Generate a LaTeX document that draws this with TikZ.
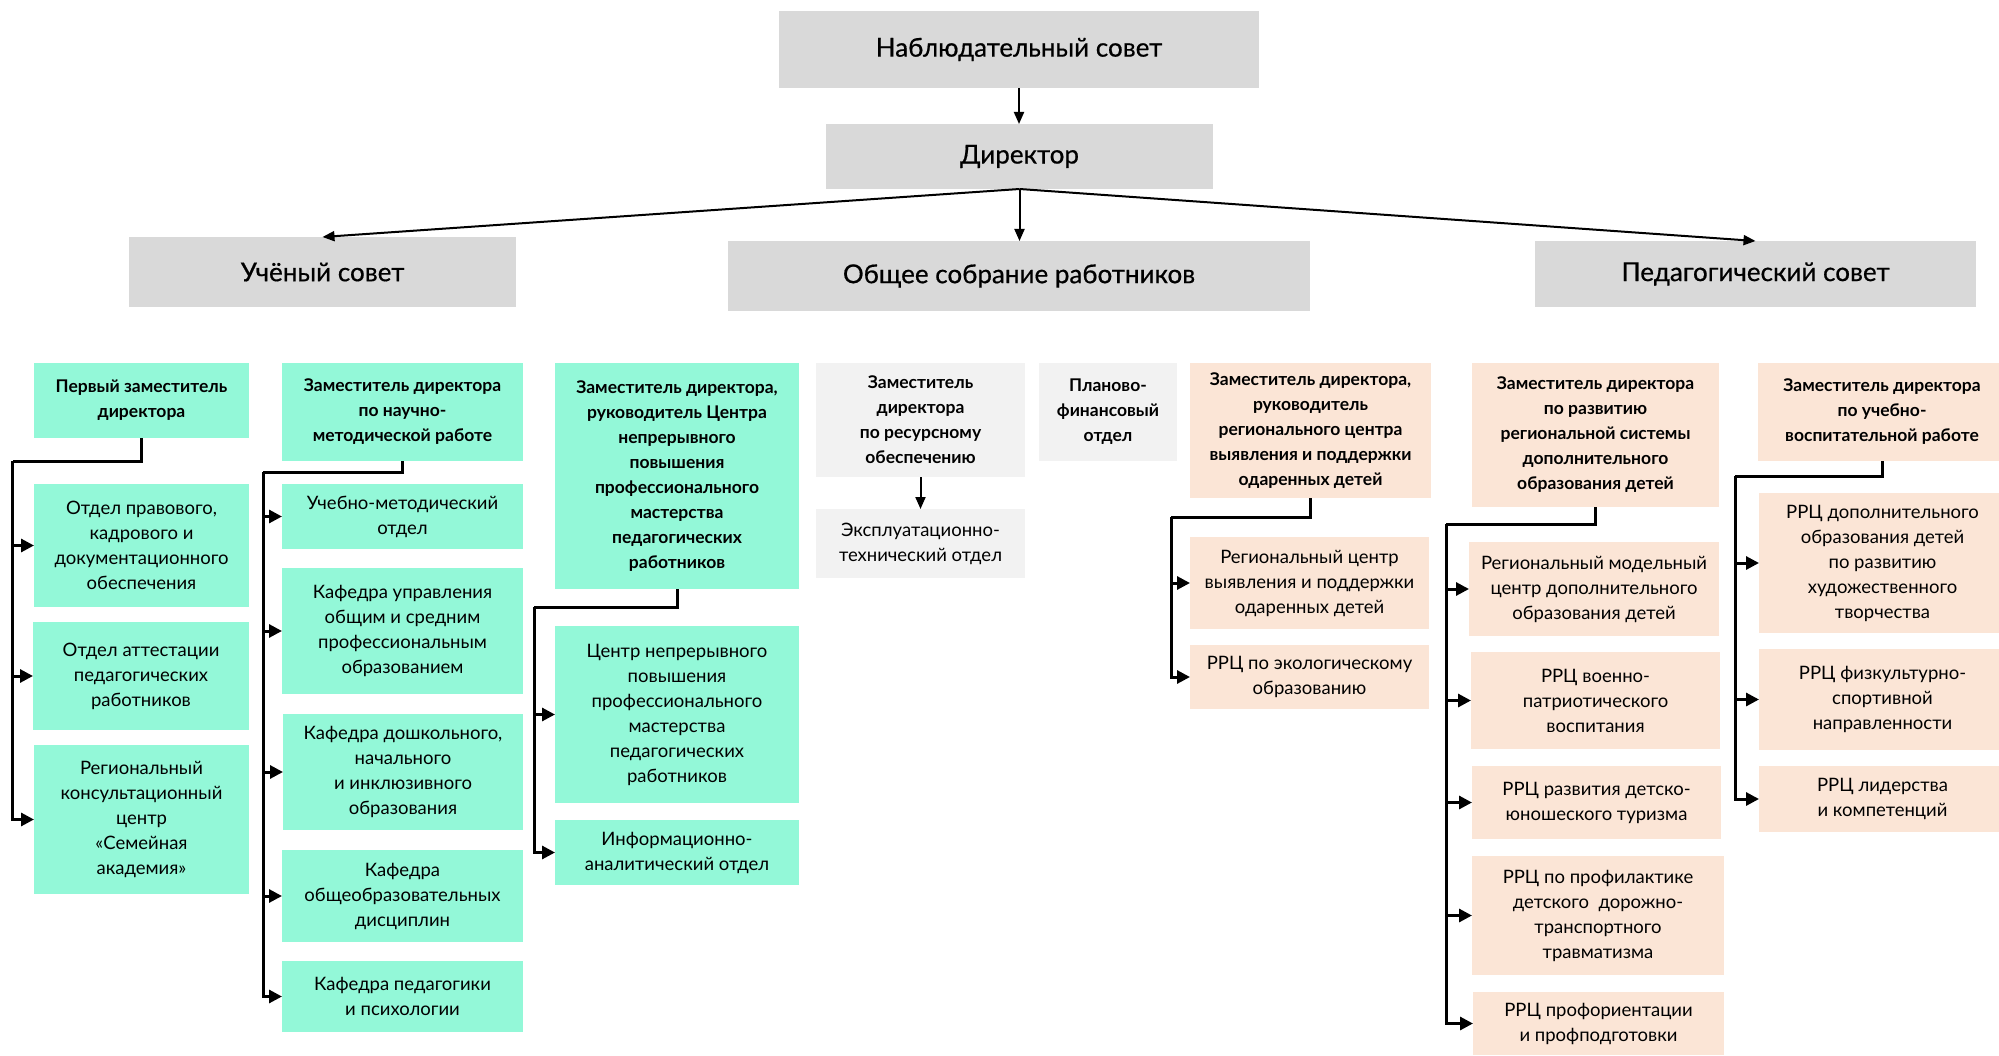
\documentclass[tikz,border=0pt]{standalone}
\usepackage{fontspec}
\setmainfont{Lato}
\newfontfamily\hdrfont[FakeBold=0.6]{Lato}
\usetikzlibrary{arrows.meta}
\definecolor{mint}{HTML}{93F8D8}
\definecolor{peach}{HTML}{FBE5D6}
\definecolor{hdrgray}{HTML}{D9D9D9}
\definecolor{lightgray2}{HTML}{F2F2F2}
\tikzset{
  box/.style={inner sep=0pt, outer sep=0pt, align=center, text=black},
  hdr/.style={box, fill=hdrgray, font=\hdrfont\fontsize{26}{32}\selectfont},
  mintbox/.style={box, fill=mint, font=\fontsize{18.5}{25}\selectfont},
  mintboss/.style={box, fill=mint, font=\bfseries\fontsize{17.5}{25}\selectfont},
  peachbox/.style={box, fill=peach, font=\fontsize{18.5}{25}\selectfont},
  peachboss/.style={box, fill=peach, font=\bfseries\fontsize{17.5}{25}\selectfont},
  greybox/.style={box, fill=lightgray2, font=\fontsize{18.5}{25}\selectfont},
  greyboss/.style={box, fill=lightgray2, font=\bfseries\fontsize{17.5}{25}\selectfont},
  conn/.style={line width=3pt, -{Triangle[length=13pt,width=13pt]}},
  busline/.style={line width=3pt},
  topconn/.style={line width=2pt, -{Triangle[length=12pt,width=10pt]}},
}
\newcommand\mkbox[7]{\node[#2, minimum width={(#5-#3)*1pt}, minimum height={(#6-#4)*1pt}] (#1) at ({(#3+#5)/2},{(#4+#6)/2}) {#7};}
\begin{document}
\begin{tikzpicture}[x=1pt,y=-1pt]
\useasboundingbox (0,0) rectangle (1999,1056);
% top level
\mkbox{nab}{hdr}{779}{11}{1259}{88}{Наблюдательный совет}
\mkbox{dir}{hdr}{826}{124}{1213}{189}{Директор}
\mkbox{uch}{hdr}{129}{237}{516}{307}{Учёный совет}
\mkbox{obsh}{hdr}{728}{241}{1310}{311}{Общее собрание работников}
\mkbox{ped}{hdr}{1535}{241}{1976}{307}{Педагогический совет}
% column A
\mkbox{perv}{mintboss}{34}{363}{249}{438}{Первый заместитель\\директора}
\mkbox{otdprav}{mintbox}{34}{484}{249}{607}{Отдел правового,\\кадрового и\\документационного\\обеспечения}
\mkbox{attest}{mintbox}{33}{622}{249}{730}{Отдел аттестации\\педагогических\\работников}
\mkbox{rkc}{mintbox}{34}{745}{249}{894}{Региональный\\консультационный\\центр\\«Семейная\\академия»}
% column B
\mkbox{nauch}{mintboss}{282}{363}{523}{461}{Заместитель директора\\по научно-\\методической работе}
\mkbox{uchmet}{mintbox}{282}{484}{523}{549}{Учебно-методический\\отдел}
\mkbox{kafupr}{mintbox}{282}{568}{523}{694}{Кафедра управления\\общим и средним\\профессиональным\\образованием}
\mkbox{kafdosh}{mintbox}{283}{714}{523}{830}{Кафедра дошкольного,\\начального\\и инклюзивного\\образования}
\mkbox{kafobsh}{mintbox}{282}{850}{523}{942}{Кафедра\\общеобразовательных\\дисциплин}
\mkbox{kafped}{mintbox}{282}{961}{523}{1032}{Кафедра педагогики\\и психологии}
% column C
\mkbox{zamc}{mintboss}{555}{363}{799}{589}{Заместитель директора,\\руководитель Центра\\непрерывного\\повышения\\профессионального\\мастерства\\педагогических\\работников}
\mkbox{cnppm}{mintbox}{555}{626}{799}{803}{Центр непрерывного\\повышения\\профессионального\\мастерства\\педагогических\\работников}
\mkbox{inf}{mintbox}{555}{820}{799}{885}{Информационно-\\аналитический отдел}
% column D, E
\mkbox{res}{greyboss}{816}{363}{1025}{477}{Заместитель\\директора\\по ресурсному\\обеспечению}
\mkbox{expl}{greybox}{816}{509}{1025}{578}{Эксплуатационно-\\технический отдел}
\mkbox{planfin}{greyboss}{1039}{363}{1177}{461}{Планово-\\финансовый\\отдел}
% column F
\mkbox{odar}{peachboss}{1190}{363}{1431}{498}{Заместитель директора,\\руководитель\\регионального центра\\выявления и поддержки\\одаренных детей}
\mkbox{rcodar}{peachbox}{1190}{537}{1429}{629}{Региональный центр\\выявления и поддержки\\одаренных детей}
\mkbox{eco}{peachbox}{1190}{645}{1429}{709}{РРЦ по экологическому\\образованию}
% column G
\mkbox{dop}{peachboss}{1472}{363}{1719}{507}{Заместитель директора\\по развитию\\региональной системы\\дополнительного\\образования детей}
\mkbox{rmc}{peachbox}{1469}{542}{1719}{636}{Региональный модельный\\центр дополнительного\\образования детей}
\mkbox{voen}{peachbox}{1471}{652}{1720}{749}{РРЦ военно-\\патриотического\\воспитания}
\mkbox{tur}{peachbox}{1472}{766}{1721}{839}{РРЦ развития детско-\\юношеского туризма}
\mkbox{prof}{peachbox}{1472}{856}{1724}{975}{РРЦ по профилактике\\детского~~дорожно-\\транспортного\\травматизма}
\mkbox{proforient}{peachbox}{1473}{992}{1724}{1055}{РРЦ профориентации\\и профподготовки}
% column H
\mkbox{uchvosp}{peachboss}{1758}{363}{2006}{461}{Заместитель директора\\по учебно-\\воспитательной работе}
\mkbox{hud}{peachbox}{1759}{493}{2006}{633}{РРЦ дополнительного\\образования детей\\по развитию\\художественного\\творчества}
\mkbox{fiz}{peachbox}{1759}{649}{2006}{750}{РРЦ физкультурно-\\спортивной\\направленности}
\mkbox{lid}{peachbox}{1759}{766}{2006}{832}{РРЦ лидерства\\и компетенций}
% top connectors
\draw[topconn] (nab.south) -- (dir.north -| nab.south);
\draw[topconn] (dir.south) -- (uch.north);
\draw[topconn] (dir.south) -- (dir.south |- obsh.north);
\draw[topconn] (dir.south) -- (ped.north);
\draw[topconn] (res.south) -- (expl.north);
% bus coordinates
\coordinate (busA) at (12.7,461);
\coordinate (busB) at (263,472);
\coordinate (busC) at (534,607);
\coordinate (busF) at (1171,517);
\coordinate (busG) at (1446,524);
\coordinate (busH) at (1735,476);
% column A
\draw[busline] (perv.south) |- (busA);
\foreach \c in {otdprav,attest,rkc} \draw[conn] (busA) |- (\c.west);
% column B
\draw[busline] (nauch.south) |- (busB);
\foreach \c in {uchmet,kafupr,kafdosh,kafobsh,kafped} \draw[conn] (busB) |- (\c.west);
% column C
\draw[busline] (zamc.south) |- (busC);
\foreach \c in {cnppm,inf} \draw[conn] (busC) |- (\c.west);
% column F
\draw[busline] (odar.south) |- (busF);
\foreach \c in {rcodar,eco} \draw[conn] (busF) |- (\c.west);
% column G
\draw[busline] (dop.south) |- (busG);
\foreach \c in {rmc,voen,tur,prof,proforient} \draw[conn] (busG) |- (\c.west);
% column H
\draw[busline] (uchvosp.south) |- (busH);
\foreach \c in {hud,fiz,lid} \draw[conn] (busH) |- (\c.west);
\end{tikzpicture}
\end{document}
